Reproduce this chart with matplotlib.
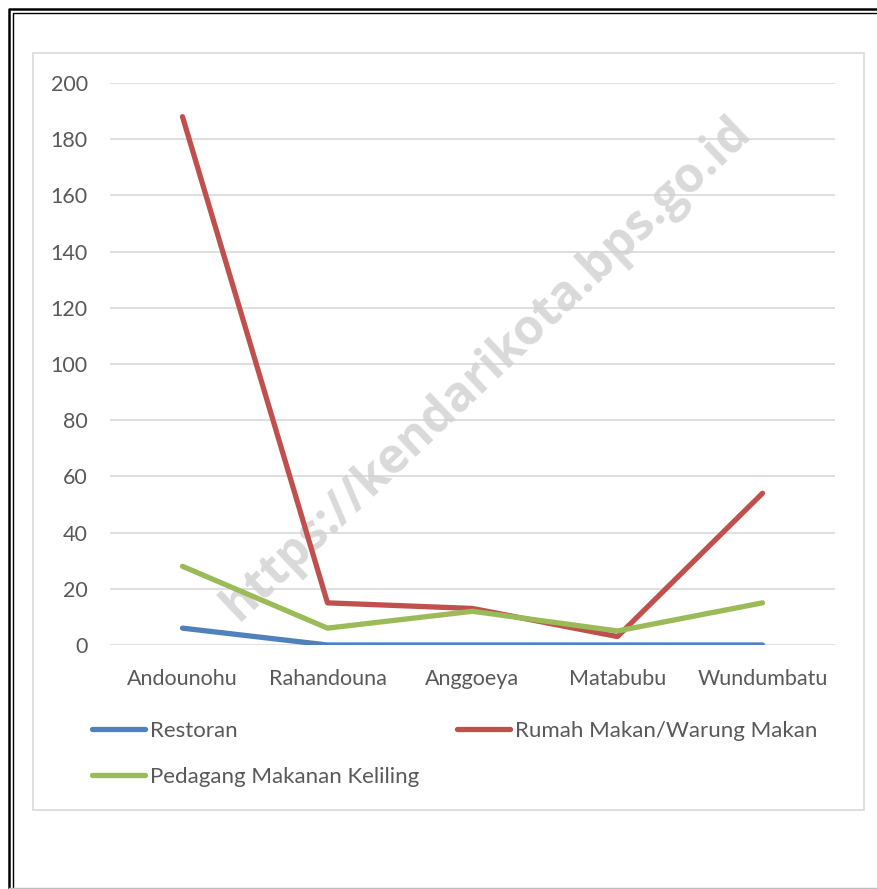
import matplotlib.pyplot as plt
from matplotlib.lines import Line2D
from matplotlib.patches import Rectangle

categories = ['Andounohu', 'Rahandouna', 'Anggoeya', 'Matabubu', 'Wundumbatu']
restoran = [6, 0, 0, 0, 0]
rumah_makan = [188, 15, 13, 3, 54]
pedagang = [28, 6, 12, 5, 15]
y_ticks = [0, 20, 40, 60, 80, 100, 120, 140, 160, 180, 200]

W, H = 878, 889
plt.rcParams['font.family'] = ['Lato', 'DejaVu Sans']
fig = plt.figure(figsize=(W / 100, H / 100), dpi=100)

# axes placed in pixel terms of the reference
ax = fig.add_axes([110 / W, 1 - 645 / H, 725 / W, (645 - 83) / H])
x = range(len(categories))
ax.plot(x, restoran, color='#4f81bd', lw=3.8, solid_capstyle='round', zorder=3, label='Restoran')
ax.plot(x, rumah_makan, color='#c0504d', lw=3.8, solid_capstyle='round', zorder=3, label='Rumah Makan/Warung Makan')
ax.plot(x, pedagang, color='#9bbb59', lw=3.8, solid_capstyle='round', zorder=3, label='Pedagang Makanan Keliling')

ax.set_xlim(-0.5, len(categories) - 0.5)
ax.set_ylim(0, 200)
ax.set_yticks(y_ticks)
ax.set_xticks(list(x))
ax.set_xticklabels(categories)
ax.tick_params(length=0, labelsize=15.5, labelcolor='#595959')
ax.tick_params(axis='y', pad=16)
ax.tick_params(axis='x', pad=17)
ax.grid(axis='y', color='#d9d9d9', lw=1.2, zorder=0)
ax.set_axisbelow(True)
for s in ax.spines.values():
    s.set_visible(False)

# watermark
ax.text(2.1, 98, 'https://kendarikota.bps.go.id', rotation=43.5, ha='center', va='center',
        rotation_mode='anchor', fontsize=35, fontweight='bold', color='#d0d0d0', alpha=0.8,
        zorder=1, clip_on=False, family=['Open Sans', 'DejaVu Sans'])

h, l = ax.get_legend_handles_labels()
order = [0, 2, 1]
fig.legend([h[i] for i in order], [l[i] for i in order], ncol=2, loc='upper left',
           bbox_to_anchor=(92 / W, 1 - 721 / H), frameon=False, fontsize=16,
           borderpad=0, borderaxespad=0, handlelength=2.38, handletextpad=0.22,
           columnspacing=1.7, labelspacing=1.15, labelcolor='#595959')

# chart area border
fig.add_artist(Rectangle((33 / W, 1 - 810 / H), 831 / W, 757 / H, transform=fig.transFigure,
                         fill=False, edgecolor='#d9d9d9', lw=1.2))

# double page frame
fig.add_artist(Line2D([8.5 / W, 8.5 / W, 1], [0, 1 - 8.5 / H, 1 - 8.5 / H], transform=fig.transFigure,
                      color='black', lw=1.8))
fig.add_artist(Line2D([12.8 / W, 12.8 / W, 1], [0, 1 - 12.8 / H, 1 - 12.8 / H], transform=fig.transFigure,
                      color='black', lw=1.0))
fig.add_artist(Line2D([8.5 / W, 1], [1.5 / H, 1.5 / H], transform=fig.transFigure,
                      color='#bfbfbf', lw=1.0))

fig.savefig('out.png', dpi=100, facecolor='white')
